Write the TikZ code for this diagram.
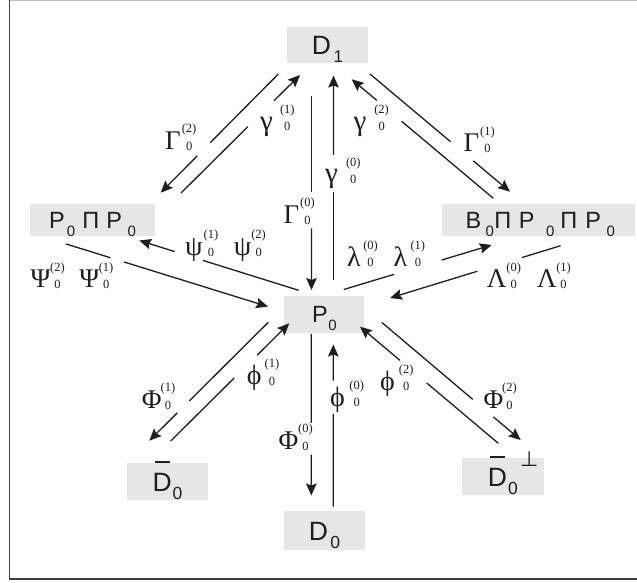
\documentclass[tikz,border=0pt]{standalone}
\usepackage{fontspec}
\setmainfont{Liberation Sans}
\newfontfamily\grk{Liberation Serif}
\newfontfamily\djv{DejaVu Sans}
\usetikzlibrary{calc,arrows.meta}
\definecolor{boxgray}{RGB}{230,230,230}
\definecolor{ink}{RGB}{30,30,30}
\definecolor{framec}{RGB}{60,60,60}
\newcommand\bsub[2]{\raisebox{-8pt}{\fontsize{#2}{#2}\selectfont #1}}
\newcommand\Dbig{\fontsize{26.5}{26.5}\selectfont}
\newcommand\Pbig{\fontsize{23.5}{23.5}\selectfont}
\newcommand\supsub[1]{\makebox[0pt][l]{\raisebox{16.5pt}{\fontsize{12.5}{12.5}\selectfont(#1)}}\kern4.2pt\raisebox{-0.7pt}{\fontsize{12.5}{12.5}\selectfont 0}\kern4.2pt}
\newcommand\gl[4][27]{{\fontsize{#1}{#1}\selectfont #2}\kern#4\supsub{#3}}
\newcommand\dbar{\makebox[0pt][l]{\kern2.5pt\raisebox{28.5pt}{\rule{14.5pt}{2pt}}}}
\newcommand\brk[4]{%
  \draw[ln] (#1) -- ($(#1)!#3!(#2)$);
  \draw[ln,arr] ($(#1)!#4!(#2)$) -- (#2);}
\begin{document}
\begin{tikzpicture}[x=1pt,y=-1pt,
  box/.style={fill=boxgray,inner sep=0pt,text=ink},
  dbox/.style={box,minimum width=81pt,text height=19pt,text depth=0pt,font=\Dbig},
  pbox/.style={box,text height=16.8pt,text depth=0pt,font=\Pbig},
  lab/.style={anchor=base west,inner sep=0pt,text=ink,font=\grk},
  ln/.style={draw=ink,line width=1.3pt},
  arr/.style={-{Stealth[length=12pt,width=10.5pt,inset=2pt]}}]
\useasboundingbox (0,0) rectangle (637,582);
\fill[white] (0,0) rectangle (637,582);
% frame
\draw[draw=gray!55,line width=1pt] (9.5,0.5) -- (637,0.5);
\draw[draw=framec,line width=1.6pt] (9.5,0) -- (9.5,579) -- (637,579);

% boxes
\node[dbox,minimum height=35.7pt] (D1) at (327.5,45.3) {D\kern2.8pt\bsub{1}{17}};
\node[pbox,minimum width=125pt,minimum height=32.5pt] (PP) at (92.5,220.2)
  {P\kern2.2pt\bsub{0}{15}\kern7pt Π\kern7.1pt P\kern5.5pt\bsub{0}{15}};
\node[pbox,minimum width=193.5pt,minimum height=32.5pt] (BPP) at (538.3,220.2)
  {\kern4pt B\kern4.4pt\bsub{0}{15}\kern0.4pt Π\kern7.5pt P\kern11.5pt\bsub{0}{15}\kern6pt Π\kern8.1pt P\kern5.5pt\bsub{0}{15}};
\node[pbox,minimum width=80pt,minimum height=37.5pt] (P0) at (324.4,314.5) {P\kern0.5pt\bsub{0}{15}};
\node[dbox,minimum height=37.6pt] (Db0) at (167.5,481.6) {\dbar D\kern1pt\bsub{0}{17.5}};
\node[dbox,minimum width=81.6pt,minimum height=37.2pt] (Dbp) at (502.8,476.6)
  {\dbar D\kern1pt\bsub{0}{17.5}\makebox[0pt][l]{\kern2.5pt\raisebox{19.3pt}{\djv\fontsize{21}{21}\selectfont ⊥}}};
\node[dbox,minimum height=39pt] (D0) at (324.5,530.5) {D\kern2.3pt\bsub{0}{17.5}};

% connector end points
\coordinate (g2s) at (278.3,74);    \coordinate (g2t) at (160.7,192.7);
\coordinate (l1s) at (181,193);     \coordinate (l1t) at (300,75);
\coordinate (g0s) at (311.5,95.5);  \coordinate (g0t) at (311.5,290);
\coordinate (l0s) at (333.5,279.5); \coordinate (l0t) at (333.5,75.5);
\coordinate (l2s) at (493.3,198.3); \coordinate (l2t) at (351.7,79.3);
\coordinate (g1s) at (370,74);      \coordinate (g1t) at (510,191.7);
\coordinate (ps)  at (298.6,290.3); \coordinate (pt)  at (139.3,240.5);
\coordinate (Ps)  at (65.8,243.9);  \coordinate (Pt)  at (268,306.6);
\coordinate (las) at (343.7,289.5); \coordinate (lat) at (491.6,245);
\coordinate (Las) at (560.6,245.7); \coordinate (Lat) at (390,298);
\coordinate (F1s) at (268.3,322.3); \coordinate (F1t) at (149.3,440.7);
\coordinate (f1s) at (170.7,441);   \coordinate (f1t) at (289.3,323.3);
\coordinate (F0s) at (311.3,334);   \coordinate (F0t) at (311.3,495.5);
\coordinate (f0s) at (333.3,506.7); \coordinate (f0t) at (333.3,344.5);
\coordinate (f2s) at (498.3,443.3); \coordinate (f2t) at (360,326.7);
\coordinate (F2s) at (381.7,322.3); \coordinate (F2t) at (520.7,440);

% connectors
\brk{g2s}{g2t}{0.579}{0.688}
\brk{l1s}{l1t}{0.562}{0.782}
\brk{g0s}{g0t}{0.495}{0.683}
\brk{l0s}{l0t}{0.430}{0.610}
\brk{l2s}{l2t}{0.647}{0.823}
\brk{g1s}{g1t}{0.576}{0.738}
\brk{ps}{pt}{0.600}{0.778}
\brk{Ps}{Pt}{0.221}{0.288}
\brk{las}{lat}{0.340}{0.662}
\brk{Las}{Lat}{0.226}{0.488}
\brk{F1s}{F1t}{0.664}{0.765}
\brk{f1s}{f1t}{0.536}{0.730}
\brk{F0s}{F0t}{0.551}{0.747}
\brk{f0s}{f0t}{0.572}{0.778}
\brk{f2s}{f2t}{0.518}{0.711}
\brk{F2s}{F2t}{0.655}{0.803}

% labels
\node[lab] (tG2) at (165,149.3) {\gl{Γ}{2}{1pt}};
\node[lab] (tg1) at (260,130) {\gl[29]{γ}{1}{7pt}};
\node[lab] (tG0) at (283.3,223.3) {\gl{Γ}{0}{1pt}};
\node[lab] (tg0) at (325,182.6) {\gl[29]{γ}{0}{8pt}};
\node[lab] (tg2) at (353.3,130) {\gl[29]{γ}{2}{8pt}};
\node[lab] (tG1) at (463.3,151.7) {\gl{Γ}{1}{1pt}};
\node[lab] (tp1) at (185,255.3) {\gl[28]{ψ}{1}{1pt}};
\node[lab] (tp2) at (233.6,255.3) {\gl[28]{ψ}{2}{0pt}};
\node[lab] (tP2) at (30.5,287.7) {\gl{Ψ}{2}{-0.5pt}};
\node[lab] (tP1) at (79.2,287.7) {\gl{Ψ}{1}{-0.5pt}};
\node[lab] (tl0) at (347,266) {\gl[28]{λ}{0}{2.5pt}};
\node[lab] (tl1) at (393.3,266) {\gl[28]{λ}{1}{3.5pt}};
\node[lab] (tL0) at (486.7,287.7) {\gl{Λ}{0}{0pt}};
\node[lab] (tL1) at (537,287.7) {\gl{Λ}{1}{-0.5pt}};
\node[lab] (tF1) at (141.7,408.3) {\gl{Φ}{1}{-1pt}};
\node[lab] (tf1) at (246.7,384.3) {\gl[28]{ϕ}{1}{3pt}};
\node[lab] (tf0) at (330,406) {\gl[28]{ϕ}{0}{4.5pt}};
\node[lab] (tf2) at (380,390) {\gl[28]{ϕ}{2}{4pt}};
\node[lab] (tF2) at (483.3,408.3) {\gl{Φ}{2}{-1pt}};
\node[lab] (tF0) at (278.3,449.3) {\gl{Φ}{0}{0pt}};
\end{tikzpicture}
\end{document}
